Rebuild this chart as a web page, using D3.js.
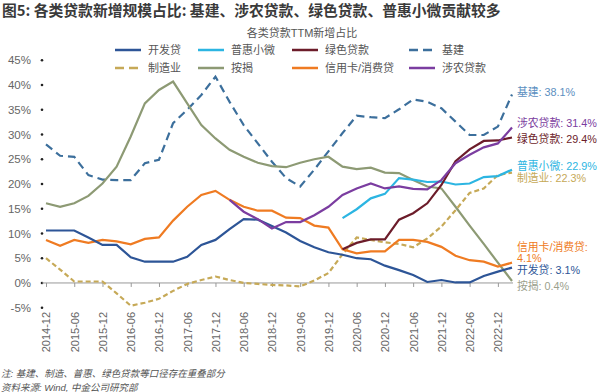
<html>
<head>
<meta charset="utf-8">
<script src="https://d3js.org/d3.v7.min.js"></script>
<style>
  body { margin: 0; background: #fff; }
  svg text { font-family: "Liberation Sans", "Noto Sans CJK SC", sans-serif; }
</style>
</head>
<body>
<div id="chart"></div>
<script>
// quarterly points, 2014-12 .. 2023-03
var quarters = ["2014-12","2015-03","2015-06","2015-09","2015-12","2016-03","2016-06","2016-09",
  "2016-12","2017-03","2017-06","2017-09","2017-12","2018-03","2018-06","2018-09","2018-12",
  "2019-03","2019-06","2019-09","2019-12","2020-03","2020-06","2020-09","2020-12","2021-03",
  "2021-06","2021-09","2021-12","2022-03","2022-06","2022-09","2022-12","2023-03"];

var yTicks = [-5, 0, 5, 10, 15, 20, 25, 30, 35, 40, 45];

var n = null;
var kaifa = [10.6,10.6,10.6,9.2,7.7,7.7,5.2,4.3,4.3,4.3,5.3,7.7,8.7,10.9,12.9,12.8,11.5,
  10.2,8.5,7.2,6.2,5.7,5.0,4.8,3.5,2.6,1.6,0.2,0.6,0.1,0.1,1.4,2.3,3.1];
var puhui = [n,n,n,n,n,n,n,n,n,n,n,n,n,n,n,n,n,n,n,n,n,
  13.1,14.9,17.1,18.0,21.2,20.9,20.4,20.5,19.9,20.1,21.4,21.6,22.9];
var lvse = [n,n,n,n,n,n,n,n,n,n,n,n,n,n,n,n,n,n,n,n,n,
  6.8,8.1,8.8,8.8,12.8,14.1,16.1,19.8,24.6,27.0,28.7,28.8,29.4];
var jijian = [28.0,25.7,25.5,21.8,20.9,20.8,20.8,24.2,24.9,32.3,35.0,38.0,41.7,36.6,31.9,
  28.2,24.5,21.2,19.5,22.9,26.6,30.3,33.8,33.5,33.3,35.1,37.1,36.6,35.3,32.6,29.9,29.9,31.6,38.1];
var zhizao = [5.0,2.7,0.3,0.3,0.3,-2.1,-4.6,-4.0,-3.2,-1.6,-0.2,0.6,1.3,0.6,0.0,-0.2,-0.4,
  -0.5,-0.7,0.5,2.0,5.8,9.2,8.7,8.2,7.9,7.2,9.0,11.4,14.7,18.2,19.1,21.8,22.3];
var anjie = [16.1,15.4,16.1,17.6,20.1,23.5,29.6,36.3,39.0,40.7,36.3,31.9,29.2,26.9,25.5,
  24.3,23.6,23.4,24.3,25.0,25.5,23.5,23.0,23.3,22.3,22.2,20.8,19.5,19.1,15.4,11.6,7.9,4.1,0.4];
var xinyong = [8.7,7.5,8.7,8.1,8.7,8.4,7.8,8.9,9.2,12.6,15.4,17.8,18.6,16.8,15.4,14.6,14.6,
  13.2,13.1,11.6,11.2,6.8,6.0,6.4,6.4,8.7,8.7,8.3,7.3,5.5,4.6,4.3,3.3,4.1];
var shenong = [n,n,n,n,n,n,n,n,n,n,n,n,n,
  16.8,14.4,12.9,11.0,12.3,12.3,13.7,15.4,17.8,19.1,20.1,19.1,19.5,19.0,18.9,20.8,24.2,25.9,27.4,28.2,31.4];

var series = [
  {name: "开发贷", values: kaifa, color: "#2d5597", dash: null, labelColor: "#2d5597"},
  {name: "普惠小微", values: puhui, color: "#2cb5e2", dash: null, labelColor: "#2cb5e2"},
  {name: "绿色贷款", values: lvse, color: "#6c1c2a", dash: null, labelColor: "#6c1c2a"},
  {name: "基建", values: jijian, color: "#3c6f9c", dash: "8,5", labelColor: "#5b8ec0"},
  {name: "制造业", values: zhizao, color: "#c6a957", dash: "5,3", labelColor: "#c6a957"},
  {name: "按揭", values: anjie, color: "#8d9a74", dash: null, labelColor: "#9ba08c"},
  {name: "信用卡/消费贷", values: xinyong, color: "#ef7b22", dash: null, labelColor: "#ef7b22"},
  {name: "涉农贷款", values: shenong, color: "#7b3da0", dash: null, labelColor: "#7b3da0"}
];

var width = 600, height = 392;
var svg = d3.select("#chart").append("svg")
  .attr("width", width).attr("height", height);

var x = d3.scalePoint().domain(quarters).range([46, 512]);
var y = d3.scaleLinear().domain([-5, 45]).range([307.7, 60.3]);

// title
svg.append("text")
  .attr("x", 2).attr("y", 16)
  .style("font-family", "'Noto Sans CJK SC', sans-serif")
  .style("font-size", "14.8px").style("font-weight", "bold")
  .attr("fill", "#3a3a3a")
  .text("图5: 各类贷款新增规模占比: 基建、涉农贷款、绿色贷款、普惠小微贡献较多");

svg.append("text")
  .attr("x", 302).attr("y", 37)
  .attr("text-anchor", "middle")
  .style("font-size", "11px").attr("fill", "#555")
  .text("各类贷款TTM新增占比");

// legend, two rows
var legX = [115, 198, 292, 409];
series.forEach(function(s, i) {
  var lx = legX[i % 4], ly = i < 4 ? 50 : 68;
  var g = svg.append("g");
  g.append("line")
    .attr("x1", lx).attr("x2", lx + 26).attr("y1", ly).attr("y2", ly)
    .attr("stroke", s.color).attr("stroke-width", 2.5)
    .attr("stroke-dasharray", s.dash ? "9,5" : null);
  g.append("text")
    .attr("x", lx + 33).attr("y", ly + 4)
    .style("font-size", "11px").attr("fill", "#555")
    .text(s.name);
});

// y axis: labels and dots, no line
var yAxis = svg.append("g")
  .attr("transform", "translate(42,0)")
  .call(d3.axisLeft(y).tickValues(yTicks).tickSize(0).tickPadding(11)
    .tickFormat(function(d) { return d + "%"; }));
yAxis.select(".domain").remove();
yAxis.selectAll("text").style("font-size", "11.5px").attr("fill", "#666")
  .style("font-family", "'Liberation Sans', sans-serif");
svg.selectAll(".ydot").data(yTicks).enter().append("circle")
  .attr("cx", 42).attr("cy", function(d) { return y(d); })
  .attr("r", 1.3).attr("fill", "#222");

// x axis along 0%
var xAxis = svg.append("g")
  .attr("transform", "translate(0," + y(0) + ")")
  .call(d3.axisBottom(x)
    .tickValues(quarters.filter(function(q) { return /-(06|12)$/.test(q); }))
    .tickSize(4).tickSizeOuter(0));
xAxis.select(".domain").remove();
xAxis.selectAll(".tick line").attr("stroke", "#999");
xAxis.selectAll("text")
  .attr("transform", "rotate(-90)")
  .attr("x", -29).attr("y", 0).attr("dy", "0.35em")
  .attr("text-anchor", "end")
  .style("font-size", "11px").attr("fill", "#666");
svg.append("line")
  .attr("x1", 42).attr("x2", 513).attr("y1", y(0)).attr("y2", y(0))
  .attr("stroke", "#999").attr("stroke-width", 1);

// lines
var line = d3.line()
  .defined(function(d) { return d != null; })
  .x(function(d, i) { return x(quarters[i]); })
  .y(function(d) { return y(d); });

// draw order so that overlaps look like the reference
var order = ["基建", "按揭", "制造业", "信用卡/消费贷", "开发贷", "普惠小微", "绿色贷款", "涉农贷款"];
order.forEach(function(name) {
  var s = series.find(function(d) { return d.name == name; });
  svg.append("path")
    .datum(s.values)
    .attr("d", line)
    .attr("fill", "none")
    .attr("stroke", s.color)
    .attr("stroke-width", 2.2)
    .attr("stroke-dasharray", s.dash);
});

// end labels (y centres picked to avoid overlap)
var endY = {"基建": 92, "涉农贷款": 123, "绿色贷款": 139, "普惠小微": 166, "制造业": 178,
  "信用卡/消费贷": 247, "开发贷": 270, "按揭": 286};
series.forEach(function(s) {
  var last = s.values[s.values.length - 1];
  var t = svg.append("text")
    .attr("x", 517).attr("y", endY[s.name] + 4)
    .style("font-size", "10.8px").attr("fill", s.labelColor);
  if (s.name == "信用卡/消费贷") {
    t.text(s.name + ":");
    svg.append("text").attr("x", 517).attr("y", endY[s.name] + 15)
      .style("font-size", "10.8px").attr("fill", s.labelColor)
      .text(last + "%");
  } else {
    t.text(s.name + ": " + last + "%");
  }
});

// notes
svg.append("text").attr("x", 1).attr("y", 377)
  .style("font-size", "9.5px").style("font-style", "italic").attr("fill", "#555")
  .text("注: 基建、制造、普惠、绿色贷款等口径存在重叠部分");
svg.append("text").attr("x", 1).attr("y", 391)
  .style("font-size", "9.5px").style("font-style", "italic").attr("fill", "#555")
  .text("资料来源: Wind, 中金公司研究部");
</script>
</body>
</html>
